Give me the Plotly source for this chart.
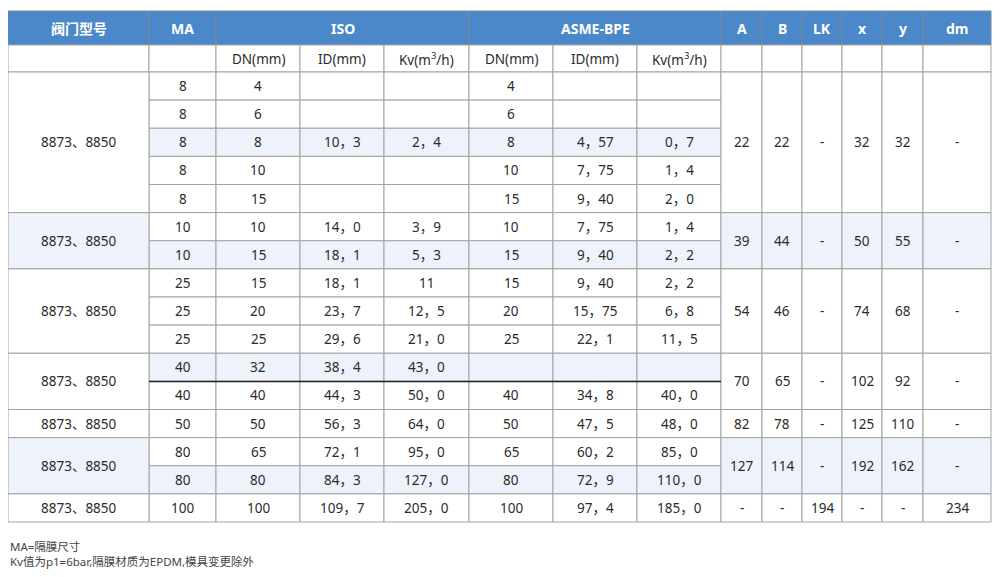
import numpy as np
import plotly.graph_objects as go

# table text
header_labels = ["阀门型号", "MA", "ISO", "ASME-BPE", "A", "B", "LK", "x", "y", "dm"]
header_spans = [1, 1, 3, 3, 1, 1, 1, 1, 1, 1]
sub_labels = ["", "", "DN(mm)", "ID(mm)", "Kv(m<sup>3</sup>/h)",
              "DN(mm)", "ID(mm)", "Kv(m<sup>3</sup>/h)", "", "", "", "", "", ""]

group_sizes = [5, 2, 3, 2, 1, 2, 1]
valve_model = ["8873、8850"] * 7

ma = ["8", "8", "8", "8", "8", "10", "10", "25", "25", "25", "40", "40", "50", "80", "80", "100"]
iso_dn = ["4", "6", "8", "10", "15", "10", "15", "15", "20", "25", "32", "40", "50", "65", "80", "100"]
iso_id = ["", "", "10，3", "", "", "14，0", "18，1", "18，1", "23，7", "29，6", "38，4", "44，3",
          "56，3", "72，1", "84，3", "109，7"]
iso_kv = ["", "", "2，4", "", "", "3，9", "5，3", "11", "12，5", "21，0", "43，0", "50，0",
          "64，0", "95，0", "127，0", "205，0"]
asme_dn = ["4", "6", "8", "10", "15", "10", "15", "15", "20", "25", "", "40", "50", "65", "80", "100"]
asme_id = ["", "", "4，57", "7，75", "9，40", "7，75", "9，40", "9，40", "15，75", "22，1", "",
           "34，8", "47，5", "60，2", "72，9", "97，4"]
asme_kv = ["", "", "0，7", "1，4", "2，0", "1，4", "2，2", "2，2", "6，8", "11，5", "",
           "40，0", "48，0", "85，0", "110，0", "185，0"]

dim_a = ["22", "39", "54", "70", "82", "127", "-"]
dim_b = ["22", "44", "46", "65", "78", "114", "-"]
dim_lk = ["-", "-", "-", "-", "-", "-", "194"]
dim_x = ["32", "50", "74", "102", "125", "192", "-"]
dim_y = ["32", "55", "68", "92", "110", "162", "-"]
dim_dm = ["-", "-", "-", "-", "-", "-", "234"]

shaded_rows = [2, 6, 10, 14]
shaded_groups = [1, 5]
rule_after_row = 10

notes = ["MA=隔膜尺寸", "Kv值为p1=6bar,隔膜材质为EPDM,模具变更除外"]

# layout of the grid (page pixels)
col_widths = [141, 67, 84, 84, 85, 84, 84, 84, 41, 40, 40, 40, 41, 68]
left, top = 8, 11
head_h, sub_h, row_h = 34, 27, 28.125
PAGE_PAD = 8  # default body margin of the html page

BLUE = "#4a88c9"
SHADE = "#edf2fb"
GRID = "#a3a3a3"
TEXT = "#2b2b2b"
FONT = "Noto Sans, Noto Sans CJK SC, sans-serif"

x_edges = left + np.cumsum([0] + col_widths)
n_rows = len(ma)
y_head = [top, top + head_h, top + head_h + sub_h]
y_rows = y_head[2] + row_h * np.arange(n_rows + 1)
g_start = np.cumsum([0] + group_sizes)

shapes = []
annotations = []


def cell(c0, c1, y0, y1, text, fill="white", line=GRID, font=None):
    shapes.append(dict(type="rect", xref="x", yref="y",
                       x0=x_edges[c0], x1=x_edges[c1], y0=y0, y1=y1,
                       fillcolor=fill, line=dict(color=line, width=1), layer="below"))
    if text != "":
        annotations.append(dict(x=(x_edges[c0] + x_edges[c1]) / 2, y=(y0 + y1) / 2,
                                xref="x", yref="y", text=text, showarrow=False,
                                font=font or dict(family=FONT, size=13.5, color=TEXT)))


# header row
hfont = dict(family=FONT, size=14, color="white")
c = 0
for lab, span in zip(header_labels, header_spans):
    cell(c, c + span, y_head[0], y_head[1], "<b>%s</b>" % lab, fill=BLUE, line="#7a8797", font=hfont)
    c += span

# sub header row
for i, lab in enumerate(sub_labels):
    cell(i, i + 1, y_head[1], y_head[2], lab)

# per-row columns
row_cols = [ma, iso_dn, iso_id, iso_kv, asme_dn, asme_id, asme_kv]
for r in range(n_rows):
    fill = SHADE if r in shaded_rows else "white"
    for j, col in enumerate(row_cols):
        cell(j + 1, j + 2, y_rows[r], y_rows[r + 1], col[r], fill=fill)

# merged group columns
group_cols = [dim_a, dim_b, dim_lk, dim_x, dim_y, dim_dm]
for g in range(len(group_sizes)):
    fill = SHADE if g in shaded_groups else "white"
    y0, y1 = y_rows[g_start[g]], y_rows[g_start[g + 1]]
    cell(0, 1, y0, y1, valve_model[g], fill=fill)
    for j, col in enumerate(group_cols):
        cell(j + 8, j + 9, y0, y1, col[g], fill=fill)

# dark rule inside the MA=40 group
shapes.append(dict(type="line", xref="x", yref="y",
                   x0=x_edges[1], x1=x_edges[8],
                   y0=y_rows[rule_after_row + 1], y1=y_rows[rule_after_row + 1],
                   line=dict(color="#222222", width=1.5)))

# notes under the table
for k, t in enumerate(notes):
    annotations.append(dict(x=left, y=y_rows[-1] + 24 + 15 * k, xref="x", yref="y",
                            text=t, showarrow=False, xanchor="left",
                            font=dict(family=FONT, size=11.5, color="#444444")))

W, H = 1000, 577
fig = go.Figure()
fig.add_trace(go.Scatter(x=[PAGE_PAD, W - PAGE_PAD], y=[PAGE_PAD, H - PAGE_PAD], mode="markers",
                         marker=dict(opacity=0), hoverinfo="skip", showlegend=False))
fig.update_layout(
    width=W - 2 * PAGE_PAD, height=H - 2 * PAGE_PAD,
    margin=dict(l=0, r=0, t=0, b=0),
    paper_bgcolor="white", plot_bgcolor="white",
    shapes=shapes, annotations=annotations,
    xaxis=dict(range=[PAGE_PAD, W - PAGE_PAD], visible=False, fixedrange=True),
    yaxis=dict(range=[H - PAGE_PAD, PAGE_PAD], visible=False, fixedrange=True),
)

fig.write_html("out.html")
